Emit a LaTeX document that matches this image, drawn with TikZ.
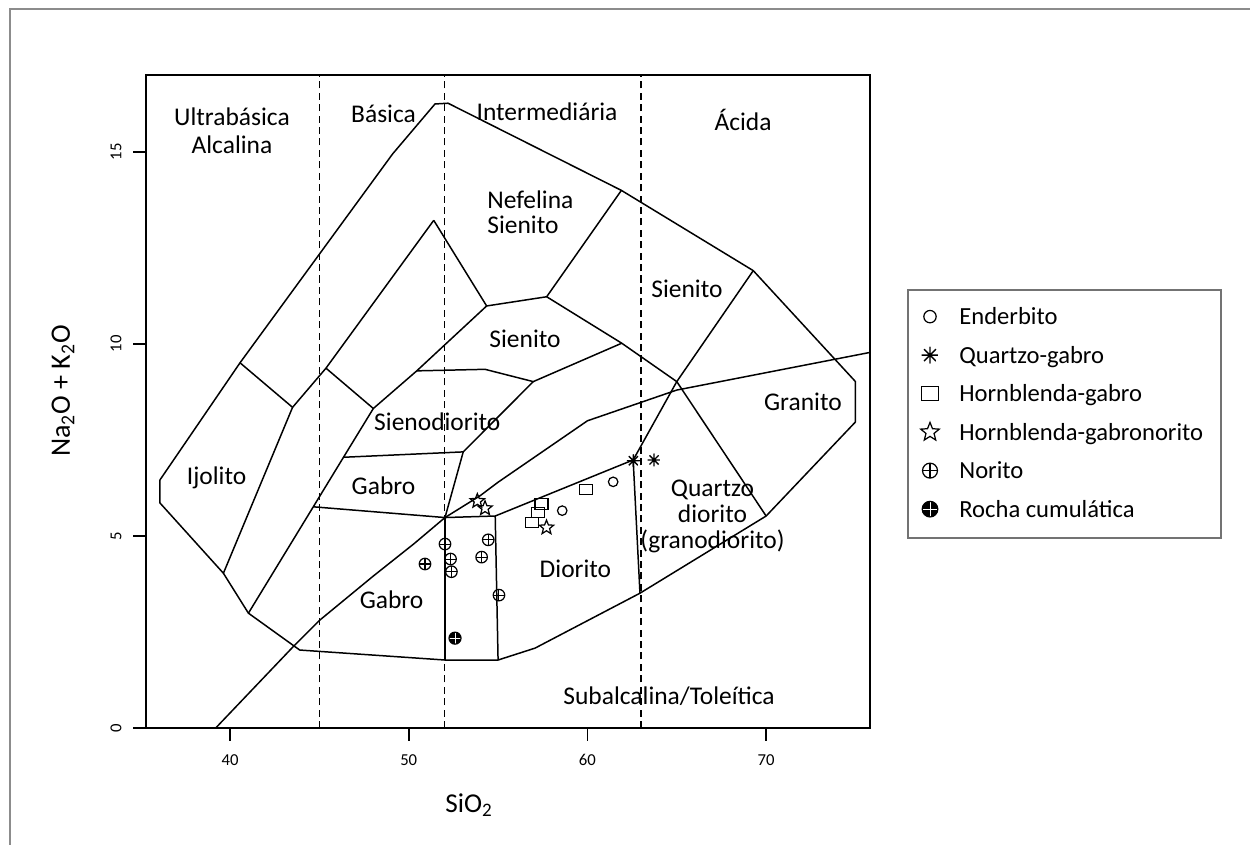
\documentclass[tikz,border=0pt]{standalone}
\usepackage{fontspec}
\setmainfont{Carlito}
\usepackage{tikz}
\usetikzlibrary{positioning}
\usetikzlibrary{shapes}
\usetikzlibrary{calc}
\tikzstyle{field} = [draw,line width=0.85pt,line join=round]
\tikzstyle{divider} = [draw,line width=0.8pt,dash pattern=on 4pt off 2.5pt]
\tikzstyle{axisline} = [draw,line width=0.9pt]
\tikzstyle{rocklabel} = [font=\fontsize{14.5}{17}\selectfont,inner sep=0pt,anchor=base]
\tikzstyle{ticklabel} = [font=\fontsize{9.5}{11}\selectfont,inner sep=0pt]
\tikzstyle{legendtext} = [font=\fontsize{14}{16}\selectfont,inner sep=0pt,anchor=base west]
\tikzstyle{enderbito} = [circle,draw,line width=0.7pt,minimum size=0.19cm,inner sep=0pt]
\tikzstyle{quartzogabro} = [circle,minimum size=0.26cm,inner sep=0pt,path picture={\draw[line width=0.75pt] (path picture bounding box.north) -- (path picture bounding box.south) (path picture bounding box.west) -- (path picture bounding box.east) (path picture bounding box.north west) -- (path picture bounding box.south east) (path picture bounding box.north east) -- (path picture bounding box.south west);}]
\tikzstyle{hbgabro} = [rectangle,draw,line width=0.7pt,minimum width=0.26cm,minimum height=0.21cm,inner sep=0pt]
\tikzstyle{hbnorito} = [star,star points=5,star point ratio=2.3,draw,line width=0.7pt,minimum size=0.3cm,inner sep=0pt]
\tikzstyle{norito} = [circle,draw,line width=0.7pt,minimum size=0.23cm,inner sep=0pt,path picture={\draw[line width=0.6pt] (path picture bounding box.north) -- (path picture bounding box.south) (path picture bounding box.west) -- (path picture bounding box.east);}]
\tikzstyle{cumulate} = [circle,draw,fill=black,line width=0.7pt,minimum size=0.24cm,inner sep=0pt,path picture={\draw[white,line width=0.3pt] (path picture bounding box.north) -- (path picture bounding box.south) (path picture bounding box.west) -- (path picture bounding box.east);}]
\begin{document}
\begin{tikzpicture}
    \useasboundingbox (0,0) rectangle (25,16.9);
    \draw[black!45,line width=0.8pt] (25,16.72) -- (0.2,16.72) -- (0.2,0);

  \begin{scope}[x=0.3574cm,y=0.768cm,shift={(-9.696cm,2.34cm)}]
    \foreach \pos/\name in {{(55,1.77)/o1}, {(57.07,2.08)/o2}, {(62.94,3.51)/o3}, {(70,5.52)/o4}, {(75,7.97)/o5}, {(75,9.02)/o6}, {(69.28,11.91)/o7}, {(61.9,14.0)/o8}, {(52.2,16.27)/o9}, {(51.47,16.25)/o10}, {(49.1,14.95)/o11}, {(40.56,9.51)/o12}, {(36.08,6.46)/o13}, {(36.08,5.86)/o14}, {(39.63,4.03)/o15}, {(41.03,2.99)/o16}, {(43.9,2.03)/o17}, {(52.03,1.77)/o18}}
        \path \pos coordinate (\name);

    \foreach \pos/\name in {{(43.5,8.35)/a}, {(45.37,9.37)/b}, {(51.4,13.22)/c}, {(48.02,8.32)/d}, {(54.36,10.99)/e}, {(57.72,11.23)/f}, {(61.92,10.02)/g}, {(65,9.02)/h}, {(56.97,9.02)/k}, {(54.27,9.34)/l}, {(50.45,9.3)/m}, {(53.05,7.19)/n}, {(52.03,5.48)/p}, {(46.35,7.05)/q}, {(44.66,5.76)/r}, {(54.84,5.52)/s}, {(62.56,6.98)/t}}
        \path \pos coordinate (\name);

    \foreach \x in {45,52,63}
        \path[divider] (\x,0) -- (\x,17);

    \path[field] (o1) -- (o2) -- (o3) -- (o4) -- (o5) -- (o6) -- (o7) -- (o8) -- (o9) -- (o10) -- (o11) -- (o12) -- (o13) -- (o14) -- (o15) -- (o16) -- (o17) -- (o18) -- cycle;
    \path[field] (o12) -- (a) -- (o15);
    \path[field] (c) -- (b) -- (a);
    \path[field] (b) -- (d);
    \path[field] (e) -- (m) -- (d) -- (q) -- (r) -- (o16);
    \path[field] (c) -- (e) -- (f) -- (o8);
    \path[field] (f) -- (g) -- (h) -- (o4);
    \path[field] (m) -- (l) -- (k) -- (g);
    \path[field] (k) -- (n) -- (p);
    \path[field] (q) -- (n);
    \path[field] (r) -- (p) -- (s) -- (t) -- (o3);
    \path[field] (p) -- (o18);
    \path[field] (s) -- (o1);
    \path[field] (o7) -- (h) -- (t);
    \path[field] (39.2,0) -- (43.5,2.1) -- (45,2.8) -- (48,3.95) -- (50.3,4.8) -- (p) -- (54,6.05) -- (55,6.4) -- (60,8) -- (65,8.8) -- (75.81,9.78);

    \draw[line width=1.1pt] (35.3,0) rectangle (75.81,17);
    \foreach \x in {40,50,60,70}
        \path[axisline] (\x,0) -- ++(0,-0.34) node[ticklabel] at (\x,-0.83) {\x};
    \foreach \y in {0,5,10,15}
        \path[axisline] (35.3,\y) -- ++(-0.73,0) node[ticklabel,rotate=90] at (33.62,\y) {\y};

    \foreach \pos/\name/\txt in {{(40.11,15.70)/ultra/Ultrabásica}, {(40.11,14.97)/alcal/Alcalina}, {(48.59,15.76)/basica/Básica}, {(57.74,15.83)/inter/Intermediária}, {(68.71,15.57)/acida/Ácida}, {(65.57,11.20)/sien1/Sienito}, {(56.51,9.92)/sien2/Sienito}, {(48.59,6.09)/gab1/Gabro}, {(49.04,3.12)/gab2/Gabro}, {(39.25,6.35)/ijol/Ijolito}, {(59.33,3.93)/dior/Diorito}, {(67.0,6.02)/qd1/Quartzo}, {(67.0,5.35)/qd2/diorito}, {(67.0,4.68)/qd3/{(granodiorito)}}, {(72.06,8.28)/gran/Granito}, {(64.57,0.60)/subalk/{Subalcalina/Toleítica}}}
        \node[rocklabel] (\name) at \pos {\txt};

    \foreach \pos/\name/\txt in {{(54.38,13.54)/nef1/Nefelina}, {(54.38,12.89)/nef2/Sienito}, {(48.05,7.76)/sdior/Sienodiorito}}
        \node[rocklabel,anchor=base west] (\name) at \pos {\txt};

    \foreach \pos/\name/\sym in {{(61.44,6.41)/end1/enderbito}, {(58.59,5.66)/end2/enderbito}, {(62.57,6.96)/qg1/quartzogabro}, {(63.73,6.98)/qg2/quartzogabro}, {(59.9,6.21)/hg1/hbgabro}, {(57.43,5.83)/hg2/hbgabro}, {(57.25,5.61)/hg3/hbgabro}, {(56.88,5.35)/hg4/hbgabro}, {(53.84,5.91)/hn1/hbnorito}, {(54.27,5.72)/hn2/hbnorito}, {(57.71,5.22)/hn3/hbnorito}, {(52.03,4.79)/nor1/norito}, {(52.34,4.40)/nor2/norito}, {(52.39,4.07)/nor3/norito}, {(50.91,4.27)/nor4/norito}, {(54.45,4.90)/nor5/norito}, {(54.08,4.45)/nor6/norito}, {(55.05,3.46)/nor7/norito}, {(52.59,2.34)/cum1/cumulate}}
        \node[\sym] (\name) at \pos {};
  \end{scope}

    \node[font=\fontsize{16}{18}\selectfont,rotate=90,inner sep=0pt] (ylab) at (1.26,9.08) {Na\textsubscript{2}O + K\textsubscript{2}O};
    \node[font=\fontsize{15.5}{18}\selectfont,inner sep=0pt,anchor=base west] (xlab) at (8.9,0.64) {SiO\textsubscript{2}};

    \draw[black!55,line width=0.6pt] (18.16,6.14) rectangle (24.42,11.1);
    \foreach \sym/\txt [count=\i] in {enderbito/Enderbito, quartzogabro/Quartzo-gabro, hbgabro/Hornblenda-gabro, hbnorito/Hornblenda-gabronorito, norito/Norito, cumulate/Rocha cumulática}
    {
        \node[\sym,scale=1.3] (key\i) at (18.6,{11.337-0.77*\i}) {};
        \node[legendtext] (keytext\i) at (19.18,{11.17-0.77*\i}) {\txt};
    }
\end{tikzpicture}
\end{document}
